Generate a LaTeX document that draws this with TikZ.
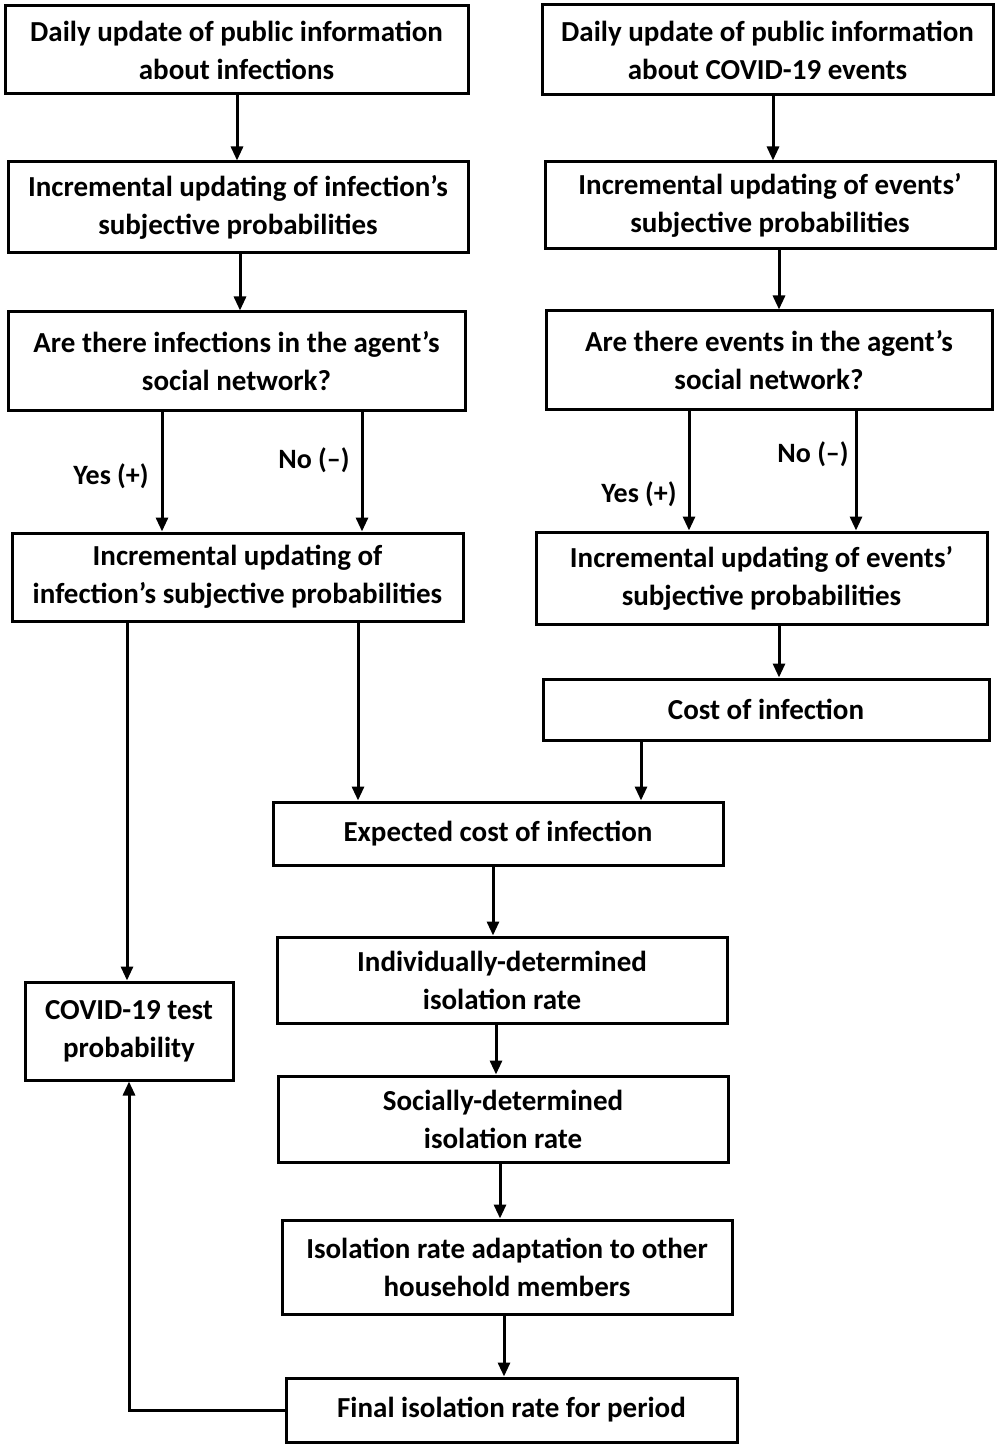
\documentclass[tikz,border=0pt]{standalone}
\usepackage{fontspec}
\setmainfont{Carlito}
\usetikzlibrary{arrows.meta}
\tikzset{
  box/.style={draw, line width=1.5pt, align=center, inner sep=0pt,
    font=\fontsize{14.5}{19}\selectfont\bfseries},
  lbl/.style={font=\fontsize{14}{16}\selectfont\bfseries},
  >={Triangle[length=7pt,width=6pt]}
}
\begin{document}
\begin{tikzpicture}[x=0.5pt,y=-0.5pt,line width=1.5pt]
  \useasboundingbox (0,0) rectangle (1000,1449);
  % left column: infections
  \node[box,minimum width=231.5pt,minimum height=44pt] (infA) at (236.5,50) {Daily update of public information\\about infections};
  \node[box,minimum width=230pt,minimum height=45.5pt] (infB) at (238,207.5) {Incremental updating of infection’s\\subjective probabilities};
  \node[box,minimum width=228.5pt,minimum height=49pt] (infC) at (236.5,361) {Are there infections in the agent’s\\social network?};
  \node[box,minimum width=225.5pt,minimum height=44pt] (infD) at (237.5,577) {Incremental updating of\\infection’s subjective probabilities};
  % right column: events
  \node[box,minimum width=225.5pt,minimum height=45pt] (evA) at (767.5,50) {Daily update of public information\\about COVID-19 events};
  \node[box,minimum width=225pt,minimum height=43.5pt] (evB) at (770,205.5) {Incremental updating of events’\\subjective probabilities};
  \node[box,minimum width=223pt,minimum height=49pt] (evC) at (769,360) {Are there events in the agent’s\\social network?};
  \node[box,minimum width=225.5pt,minimum height=46pt] (evD) at (761.5,578) {Incremental updating of events’\\subjective probabilities};
  \node[box,minimum width=223pt,minimum height=30.5pt] (cost) at (766,709.5) {Cost of infection};
  % middle chain
  \node[box,minimum width=225pt,minimum height=31.5pt] (expcost) at (498,833.5) {Expected cost of infection};
  \node[box,minimum width=225pt,minimum height=43pt] (indiv) at (502,980) {Individually-determined\\isolation rate};
  \node[box,minimum width=225pt,minimum height=43pt] (social) at (503,1119) {Socially-determined\\isolation rate};
  \node[box,minimum width=225pt,minimum height=47pt] (adapt) at (507,1267) {Isolation rate adaptation to other\\household members};
  \node[box,minimum width=225.5pt,minimum height=32pt] (final) at (511.5,1410) {Final isolation rate for period};
  \node[box,minimum width=104pt,minimum height=49pt] (test) at (129,1031) {COVID-19 test\\probability};
  % labels
  \node[lbl] (infyes) at (111,476) {Yes (+)};
  \node[lbl] (infno) at (314,460) {No (–)};
  \node[lbl] (evyes) at (639,494) {Yes (+)};
  \node[lbl] (evno) at (813,454) {No (–)};
  % arrows
  \draw[->] (237,0 |- infA.south) -- (237,0 |- infB.north);
  \draw[->] (240,0 |- infB.south) -- (240,0 |- infC.north);
  \draw[->] (162,0 |- infC.south) -- (162,0 |- infD.north);
  \draw[->] (362,0 |- infC.south) -- (362,0 |- infD.north);
  \draw[->] (773,0 |- evA.south) -- (773,0 |- evB.north);
  \draw[->] (779,0 |- evB.south) -- (779,0 |- evC.north);
  \draw[->] (689,0 |- evC.south) -- (689,0 |- evD.north);
  \draw[->] (856,0 |- evC.south) -- (856,0 |- evD.north);
  \draw[->] (779,0 |- evD.south) -- (779,0 |- cost.north);
  \draw[->] (358,0 |- infD.south) -- (358,0 |- expcost.north);
  \draw[->] (641,0 |- cost.south) -- (641,0 |- expcost.north);
  \draw[->] (127,0 |- infD.south) -- (127,0 |- test.north);
  \draw[->] (493,0 |- expcost.south) -- (493,0 |- indiv.north);
  \draw[->] (496,0 |- indiv.south) -- (496,0 |- social.north);
  \draw[->] (500,0 |- social.south) -- (500,0 |- adapt.north);
  \draw[->] (504,0 |- adapt.south) -- (504,0 |- final.north);
  \draw[->] (final.west) -| (test.south);
\end{tikzpicture}
\end{document}
